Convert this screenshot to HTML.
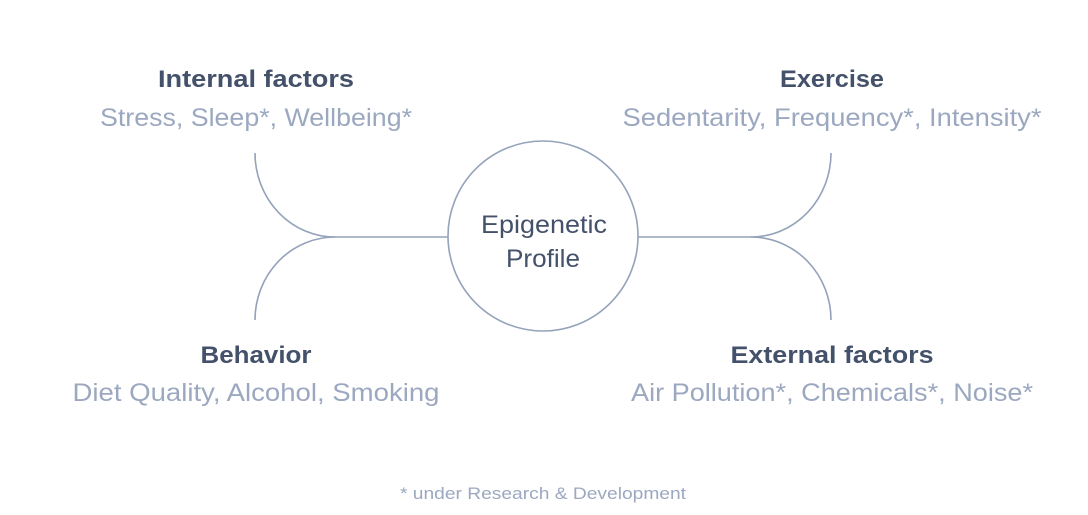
<!DOCTYPE html>
<html><head><style>
body{margin:0;width:1088px;height:510px;background:#fff;overflow:hidden;font-family:"Liberation Sans",sans-serif}
</style></head><body>
<svg width="1088" height="510" viewBox="0 0 1088 510" xmlns="http://www.w3.org/2000/svg">
<g fill="none" stroke="#94a2ba" stroke-width="1.6">
<circle cx="543" cy="236" r="95"/>
<path d="M255 153 A80 84 0 0 0 335 237 L448 237"/>
<path d="M255 320 A80 83 0 0 1 335 237"/>
<path d="M831 153 A80 84 0 0 1 751 237 L638 237"/>
<path d="M831 320 A80 83 0 0 0 751 237"/>
</g>
<g font-family="Liberation Sans, sans-serif" text-anchor="middle" lengthAdjust="spacingAndGlyphs">
<g font-weight="bold" font-size="24" fill="#44516a">
<text x="256" y="87" textLength="196" lengthAdjust="spacingAndGlyphs">Internal factors</text>
<text x="832" y="87" textLength="104" lengthAdjust="spacingAndGlyphs">Exercise</text>
<text x="256" y="363" textLength="111" lengthAdjust="spacingAndGlyphs">Behavior</text>
<text x="832" y="363" textLength="203" lengthAdjust="spacingAndGlyphs">External factors</text>
</g>
<g font-size="25" fill="#9ba8c0">
<text x="256" y="126" textLength="312" lengthAdjust="spacingAndGlyphs">Stress, Sleep*, Wellbeing*</text>
<text x="832" y="126" textLength="419" lengthAdjust="spacingAndGlyphs">Sedentarity, Frequency*, Intensity*</text>
<text x="256" y="401" textLength="367" lengthAdjust="spacingAndGlyphs">Diet Quality, Alcohol, Smoking</text>
<text x="832" y="401" textLength="402" lengthAdjust="spacingAndGlyphs">Air Pollution*, Chemicals*, Noise*</text>
</g>
<g font-size="25" fill="#44516a">
<text x="544" y="233" textLength="126" lengthAdjust="spacingAndGlyphs">Epigenetic</text>
<text x="543" y="267" textLength="74" lengthAdjust="spacingAndGlyphs">Profile</text>
</g>
<text x="543" y="499" font-size="17" fill="#9ba8c0" textLength="286" lengthAdjust="spacingAndGlyphs">* under Research &amp; Development</text>
</g>
</svg>
</body></html>
